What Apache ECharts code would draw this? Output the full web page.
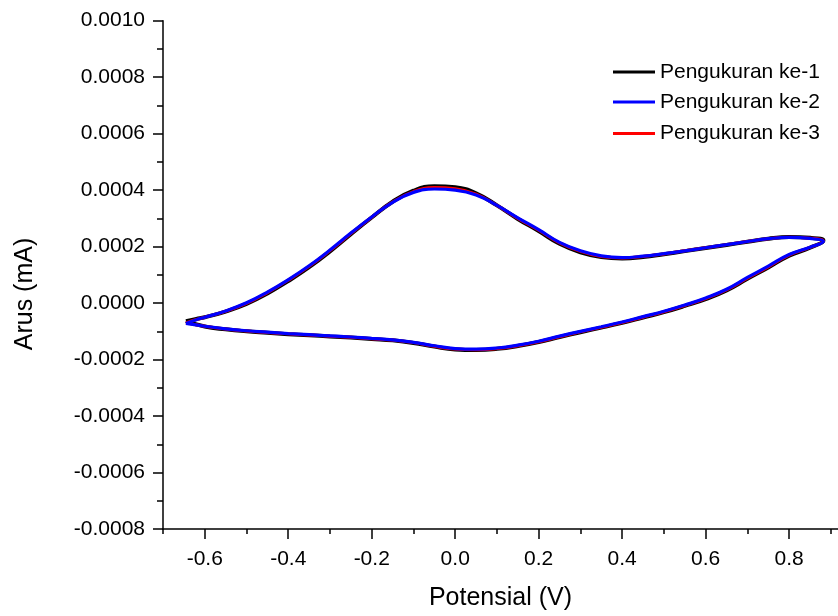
<!DOCTYPE html>
<html>
<head>
<meta charset="utf-8">
<title>Voltamogram siklik</title>
<script src="https://cdn.jsdelivr.net/npm/echarts@6/dist/echarts.min.js"></script>
<style>
  html, body { margin: 0; padding: 0; background: #ffffff; }
  #chart { width: 838px; height: 616px; }
</style>
</head>
<body>
<div id="chart"></div>
<script>
// Scan potential (V): forward sweep to the vertex, then the reverse sweep back.
const potensial = [
  -0.645, -0.62, -0.60, -0.55, -0.50, -0.45, -0.40, -0.35, -0.30, -0.25, -0.20,
  -0.15, -0.10, -0.05, 0.00, 0.05, 0.10, 0.15, 0.20, 0.25, 0.30, 0.35, 0.40,
  0.45, 0.50, 0.55, 0.60, 0.65, 0.70, 0.75, 0.80, 0.85, 0.882,
  0.85, 0.80, 0.75, 0.70, 0.65, 0.60, 0.55, 0.50, 0.45, 0.40, 0.35, 0.30, 0.25,
  0.20, 0.15, 0.10, 0.05, 0.00, -0.05, -0.10, -0.15, -0.20, -0.25, -0.30, -0.35,
  -0.40, -0.45, -0.50, -0.55, -0.60, -0.645
];

// Current (mA) for each measurement, same order as the potentials above.
const arusKe1 = [
  -0.000064, -0.000056, -0.000050, -0.000030, -0.000003, 0.000034, 0.000078, 0.000127, 0.000183, 0.000244, 0.000303,
  0.000359, 0.000398, 0.000414, 0.000410, 0.000389, 0.000346, 0.000298, 0.000255, 0.000210, 0.000180, 0.000163, 0.000158,
  0.000163, 0.000173, 0.000184, 0.000195, 0.000206, 0.000217, 0.000228, 0.000234, 0.000231, 0.000222,
  0.000196, 0.000168, 0.000126, 0.000086, 0.000045, 0.000014, -0.000010, -0.000032, -0.000051, -0.000070, -0.000087, -0.000103, -0.000120,
  -0.000138, -0.000152, -0.000162, -0.000166, -0.000164, -0.000154, -0.000141, -0.000132, -0.000127, -0.000122, -0.000118, -0.000114,
  -0.000110, -0.000105, -0.000100, -0.000093, -0.000083, -0.000064
];

const arusKe2 = [
  -0.000072, -0.000059, -0.000050, -0.000028, 0.000001, 0.000039, 0.000083, 0.000132, 0.000188, 0.000248, 0.000305,
  0.000357, 0.000392, 0.000404, 0.000400, 0.000383, 0.000346, 0.000302, 0.000260, 0.000215, 0.000185, 0.000167, 0.000161,
  0.000166, 0.000175, 0.000185, 0.000196, 0.000207, 0.000218, 0.000228, 0.000233, 0.000229, 0.000218,
  0.000198, 0.000172, 0.000131, 0.000091, 0.000049, 0.000018, -0.000007, -0.000029, -0.000048, -0.000067, -0.000084, -0.000100, -0.000117,
  -0.000135, -0.000149, -0.000159, -0.000163, -0.000161, -0.000151, -0.000139, -0.000130, -0.000125, -0.000120, -0.000116, -0.000112,
  -0.000108, -0.000103, -0.000098, -0.000091, -0.000082, -0.000072
];

const arusKe3 = [
  -0.000070, -0.000058, -0.000050, -0.000029, -0.000001, 0.000037, 0.000081, 0.000130, 0.000186, 0.000246, 0.000304,
  0.000358, 0.000395, 0.000409, 0.000405, 0.000386, 0.000346, 0.000300, 0.000258, 0.000213, 0.000183, 0.000165, 0.000160,
  0.000165, 0.000174, 0.000185, 0.000196, 0.000207, 0.000218, 0.000228, 0.000233, 0.000230, 0.000220,
  0.000197, 0.000170, 0.000128, 0.000088, 0.000047, 0.000016, -0.000009, -0.000031, -0.000050, -0.000069, -0.000086, -0.000102, -0.000119,
  -0.000137, -0.000151, -0.000161, -0.000165, -0.000163, -0.000153, -0.000140, -0.000131, -0.000126, -0.000121, -0.000117, -0.000113,
  -0.000109, -0.000104, -0.000099, -0.000092, -0.000082, -0.000070
];

const seriesNames = ['Pengukuran ke-1', 'Pengukuran ke-2', 'Pengukuran ke-3'];
const seriesColors = ['#000000', '#0000ff', '#ff0000'];

// Axis ticks
const xMajorTicks = [-0.6, -0.4, -0.2, 0.0, 0.2, 0.4, 0.6, 0.8];
const xMinorTicks = [-0.7, -0.5, -0.3, -0.1, 0.1, 0.3, 0.5, 0.7, 0.9];
const yTicks = [-0.0008, -0.0006, -0.0004, -0.0002, 0.0000, 0.0002, 0.0004, 0.0006, 0.0008, 0.0010];

const FONT = '"Liberation Sans", Arial, Helvetica, sans-serif';

function pairs(ys) {
  return potensial.map((v, i) => [v, ys[i]]);
}

const chart = echarts.init(document.getElementById('chart'), null, { renderer: 'canvas' });

const axisLine = { show: true, onZero: false, lineStyle: { color: '#000', width: 1.5 } };

function lineSeries(name, color, ys, width) {
  return {
    name: name,
    type: 'line',
    xAxisIndex: 0,
    yAxisIndex: 0,
    data: pairs(ys),
    showSymbol: false,
    smooth: 0.45,
    lineStyle: { color: color, width: width },
    itemStyle: { color: color },
    emphasis: { disabled: true },
    animation: false
  };
}

function legendAt(idx, top) {
  return {
    show: true,
    data: [seriesNames[idx]],
    left: 613,
    top: top,
    padding: 0,
    icon: 'rect',
    itemWidth: 42,
    itemHeight: 3,
    selectedMode: false,
    textStyle: { color: '#000', fontSize: 21, fontFamily: FONT }
  };
}

chart.setOption({
  backgroundColor: '#ffffff',
  animation: false,
  grid: { left: 163, right: 0, top: 20.7, bottom: 86, containLabel: false },
  xAxis: [
    {
      type: 'value',
      position: 'bottom',
      min: -0.7,
      max: 0.917,
      axisLine: axisLine,
      axisTick: { show: true, inside: false, length: 10, customValues: xMajorTicks,
                  lineStyle: { color: '#000', width: 1.5 } },
      axisLabel: { show: true, customValues: xMajorTicks, margin: 20, color: '#000',
                   fontSize: 21, fontFamily: FONT,
                   formatter: v => v.toFixed(1) },
      splitLine: { show: false },
      name: 'Potensial (V)',
      nameLocation: 'middle',
      nameGap: 57,
      nameTextStyle: { color: '#000', fontSize: 25, fontFamily: FONT }
    },
    {
      type: 'value',
      position: 'bottom',
      min: -0.7,
      max: 0.917,
      axisLine: { show: false, onZero: false },
      axisTick: { show: true, inside: false, length: 5, customValues: xMinorTicks,
                  lineStyle: { color: '#000', width: 1.5 } },
      axisLabel: { show: false },
      splitLine: { show: false }
    }
  ],
  yAxis: {
    type: 'value',
    min: -0.0008,
    max: 0.0010,
    interval: 0.0002,
    axisLine: axisLine,
    axisTick: { show: true, inside: false, length: 10, lineStyle: { color: '#000', width: 1.5 } },
    minorTick: { show: true, splitNumber: 2, length: 6, lineStyle: { color: '#000', width: 1.5 } },
    axisLabel: { show: true, margin: 18, color: '#000', fontSize: 21, fontFamily: FONT,
                 formatter: v => v.toFixed(4) },
    splitLine: { show: false },
    minorSplitLine: { show: false }
  },
  legend: [legendAt(0, 61.5), legendAt(1, 91.5), legendAt(2, 123)],
  graphic: [
    {
      type: 'text',
      x: 25,
      y: 294,
      rotation: Math.PI / 2,
      style: {
        text: 'Arus (mA)',
        font: '25px ' + FONT,
        fill: '#000',
        align: 'center',
        verticalAlign: 'middle'
      }
    }
  ],
  series: [
    lineSeries(seriesNames[0], seriesColors[0], arusKe1, 4),
    lineSeries(seriesNames[2], seriesColors[2], arusKe3, 3),
    lineSeries(seriesNames[1], seriesColors[1], arusKe2, 3.2)
  ]
});
</script>
</body>
</html>
